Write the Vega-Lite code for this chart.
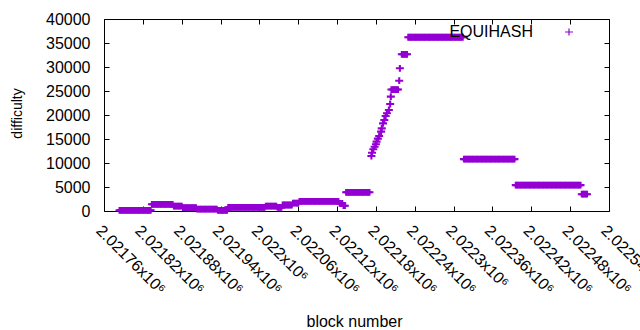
{
  "$schema": "https://vega.github.io/schema/vega-lite/v6.json",
  "autosize": {"type": "none"},
  "padding": {"left": 104, "top": 19, "right": 31, "bottom": 119},
  "width": 505,
  "height": 192,
  "background": "white",
  "config": {
    "font": "Liberation Sans",
    "view": {"stroke": "black", "strokeWidth": 1},
    "axis": {"grid": false, "domain": false, "tickColor": "black", "tickSize": -5, "labelColor": "black", "labelFontSize": 16, "titleColor": "black", "titleFontWeight": "normal", "titleFontSize": 16, "labelFont": "Liberation Sans", "titleFont": "Liberation Sans"}
  },
  "data": {"values": [
    {"b":2021784,"d":150},{"b":2021786,"d":150},{"b":2021788,"d":150},{"b":2021790,"d":150},{"b":2021792,"d":150},{"b":2021794,"d":150},{"b":2021796,"d":150},{"b":2021798,"d":150},{"b":2021800,"d":150},{"b":2021802,"d":150},{"b":2021804,"d":150},{"b":2021806,"d":150},{"b":2021808,"d":150},{"b":2021810,"d":150},{"b":2021812,"d":150},{"b":2021814,"d":150},{"b":2021816,"d":150},{"b":2021818,"d":150},{"b":2021820,"d":150},{"b":2021822,"d":150},{"b":2021824,"d":150},{"b":2021826,"d":150},{"b":2021828,"d":150},{"b":2021830,"d":150},{"b":2021832,"d":150},
    {"b":2021834,"d":1400},{"b":2021836,"d":1400},{"b":2021838,"d":1400},{"b":2021840,"d":1400},{"b":2021842,"d":1400},{"b":2021844,"d":1400},{"b":2021846,"d":1400},{"b":2021848,"d":1400},{"b":2021850,"d":1400},{"b":2021852,"d":1400},{"b":2021854,"d":1400},{"b":2021856,"d":1400},{"b":2021858,"d":1400},{"b":2021860,"d":1400},{"b":2021862,"d":1400},{"b":2021864,"d":1400},{"b":2021866,"d":1400},
    {"b":2021868,"d":1000},{"b":2021870,"d":1000},{"b":2021872,"d":1000},{"b":2021874,"d":1000},{"b":2021876,"d":1000},{"b":2021878,"d":1000},{"b":2021880,"d":1000},
    {"b":2021882,"d":700},{"b":2021884,"d":700},{"b":2021886,"d":700},{"b":2021888,"d":700},{"b":2021890,"d":700},{"b":2021892,"d":700},{"b":2021894,"d":700},{"b":2021896,"d":700},{"b":2021898,"d":700},{"b":2021900,"d":700},{"b":2021902,"d":700},
    {"b":2021904,"d":400},{"b":2021906,"d":400},{"b":2021908,"d":400},{"b":2021910,"d":400},{"b":2021912,"d":400},{"b":2021914,"d":400},{"b":2021916,"d":400},{"b":2021918,"d":400},{"b":2021920,"d":400},{"b":2021922,"d":400},{"b":2021924,"d":400},{"b":2021926,"d":400},{"b":2021928,"d":400},{"b":2021930,"d":400},{"b":2021932,"d":400},{"b":2021934,"d":400},
    {"b":2021936,"d":150},{"b":2021938,"d":150},{"b":2021940,"d":150},{"b":2021942,"d":150},{"b":2021944,"d":150},{"b":2021946,"d":150},{"b":2021948,"d":150},{"b":2021950,"d":150},
    {"b":2021952,"d":750},{"b":2021954,"d":750},{"b":2021956,"d":750},{"b":2021958,"d":750},{"b":2021960,"d":750},{"b":2021962,"d":750},{"b":2021964,"d":750},{"b":2021966,"d":750},{"b":2021968,"d":750},{"b":2021970,"d":750},{"b":2021972,"d":750},{"b":2021974,"d":750},{"b":2021976,"d":750},{"b":2021978,"d":750},{"b":2021980,"d":750},{"b":2021982,"d":750},{"b":2021984,"d":750},{"b":2021986,"d":750},{"b":2021988,"d":750},{"b":2021990,"d":750},{"b":2021992,"d":750},{"b":2021994,"d":750},{"b":2021996,"d":750},{"b":2021998,"d":750},{"b":2022000,"d":750},{"b":2022002,"d":750},{"b":2022004,"d":750},{"b":2022006,"d":750},{"b":2022008,"d":750},
    {"b":2022010,"d":1000},{"b":2022012,"d":1000},{"b":2022014,"d":1000},{"b":2022016,"d":1000},{"b":2022018,"d":1000},{"b":2022020,"d":1000},{"b":2022022,"d":1000},{"b":2022024,"d":1000},{"b":2022026,"d":1000},
    {"b":2022028,"d":750},{"b":2022030,"d":750},{"b":2022032,"d":750},{"b":2022034,"d":750},
    {"b":2022036,"d":1250},{"b":2022038,"d":1250},{"b":2022040,"d":1250},{"b":2022042,"d":1250},{"b":2022044,"d":1250},{"b":2022046,"d":1250},{"b":2022048,"d":1250},{"b":2022050,"d":1250},
    {"b":2022052,"d":1650},{"b":2022054,"d":1650},{"b":2022056,"d":1650},{"b":2022058,"d":1650},{"b":2022060,"d":1650},
    {"b":2022062,"d":2000},{"b":2022064,"d":2000},{"b":2022066,"d":2000},{"b":2022068,"d":2000},{"b":2022070,"d":2000},{"b":2022072,"d":2000},{"b":2022074,"d":2000},{"b":2022076,"d":2000},{"b":2022078,"d":2000},{"b":2022080,"d":2000},{"b":2022082,"d":2000},{"b":2022084,"d":2000},{"b":2022086,"d":2000},{"b":2022088,"d":2000},{"b":2022090,"d":2000},{"b":2022092,"d":2000},{"b":2022094,"d":2000},{"b":2022096,"d":2000},{"b":2022098,"d":2000},{"b":2022100,"d":2000},{"b":2022102,"d":2000},{"b":2022104,"d":2000},{"b":2022106,"d":2000},{"b":2022108,"d":2000},{"b":2022110,"d":2000},{"b":2022112,"d":2000},{"b":2022114,"d":2000},{"b":2022116,"d":2000},{"b":2022118,"d":2000},{"b":2022120,"d":2000},{"b":2022122,"d":2000},
    {"b":2022124,"d":1600},{"b":2022126,"d":1600},{"b":2022128,"d":1600},
    {"b":2022130,"d":1100},{"b":2022132,"d":1100},
    {"b":2022134,"d":3900},{"b":2022136,"d":3900},{"b":2022138,"d":3900},{"b":2022140,"d":3900},{"b":2022142,"d":3900},{"b":2022144,"d":3900},{"b":2022146,"d":3900},{"b":2022148,"d":3900},{"b":2022150,"d":3900},{"b":2022152,"d":3900},{"b":2022154,"d":3900},{"b":2022156,"d":3900},{"b":2022158,"d":3900},{"b":2022160,"d":3900},{"b":2022162,"d":3900},{"b":2022164,"d":3900},{"b":2022166,"d":3900},{"b":2022168,"d":3900},{"b":2022170,"d":3900},
    {"b":2022173,"d":11460},{"b":2022174,"d":12150},{"b":2022176,"d":12850},{"b":2022178,"d":13400},{"b":2022180,"d":13900},{"b":2022181,"d":14450},{"b":2022183,"d":15070},{"b":2022185,"d":15630},{"b":2022188,"d":16530},{"b":2022189,"d":17220},{"b":2022191,"d":18260},{"b":2022193,"d":18960},{"b":2022195,"d":19790},{"b":2022197,"d":20350},{"b":2022200,"d":21040},{"b":2022202,"d":22290},{"b":2022203,"d":23820},
    {"b":2022204,"d":25300},{"b":2022206,"d":25300},{"b":2022208,"d":25300},{"b":2022210,"d":25300},{"b":2022212,"d":25300},{"b":2022214,"d":25300},
    {"b":2022216,"d":27150},{"b":2022217,"d":29730},
    {"b":2022220,"d":32650},{"b":2022222,"d":32650},{"b":2022224,"d":32650},{"b":2022226,"d":32650},{"b":2022228,"d":32650},
    {"b":2022230,"d":36200},{"b":2022232,"d":36200},{"b":2022234,"d":36200},{"b":2022236,"d":36200},{"b":2022238,"d":36200},{"b":2022240,"d":36200},{"b":2022242,"d":36200},{"b":2022244,"d":36200},{"b":2022246,"d":36200},{"b":2022248,"d":36200},{"b":2022250,"d":36200},{"b":2022252,"d":36200},{"b":2022254,"d":36200},{"b":2022256,"d":36200},{"b":2022258,"d":36200},{"b":2022260,"d":36200},{"b":2022262,"d":36200},{"b":2022264,"d":36200},{"b":2022266,"d":36200},{"b":2022268,"d":36200},{"b":2022270,"d":36200},{"b":2022272,"d":36200},{"b":2022274,"d":36200},{"b":2022276,"d":36200},{"b":2022278,"d":36200},{"b":2022280,"d":36200},{"b":2022282,"d":36200},{"b":2022284,"d":36200},{"b":2022286,"d":36200},{"b":2022288,"d":36200},{"b":2022290,"d":36200},{"b":2022292,"d":36200},{"b":2022294,"d":36200},{"b":2022296,"d":36200},{"b":2022298,"d":36200},{"b":2022300,"d":36200},{"b":2022302,"d":36200},{"b":2022304,"d":36200},{"b":2022306,"d":36200},{"b":2022308,"d":36200},{"b":2022310,"d":36200},{"b":2022312,"d":36200},{"b":2022314,"d":36200},
    {"b":2022316,"d":10800},{"b":2022318,"d":10800},{"b":2022320,"d":10800},{"b":2022322,"d":10800},{"b":2022324,"d":10800},{"b":2022326,"d":10800},{"b":2022328,"d":10800},{"b":2022330,"d":10800},{"b":2022332,"d":10800},{"b":2022334,"d":10800},{"b":2022336,"d":10800},{"b":2022338,"d":10800},{"b":2022340,"d":10800},{"b":2022342,"d":10800},{"b":2022344,"d":10800},{"b":2022346,"d":10800},{"b":2022348,"d":10800},{"b":2022350,"d":10800},{"b":2022352,"d":10800},{"b":2022354,"d":10800},{"b":2022356,"d":10800},{"b":2022358,"d":10800},{"b":2022360,"d":10800},{"b":2022362,"d":10800},{"b":2022364,"d":10800},{"b":2022366,"d":10800},{"b":2022368,"d":10800},{"b":2022370,"d":10800},{"b":2022372,"d":10800},{"b":2022374,"d":10800},{"b":2022376,"d":10800},{"b":2022378,"d":10800},{"b":2022380,"d":10800},{"b":2022382,"d":10800},{"b":2022384,"d":10800},{"b":2022386,"d":10800},{"b":2022388,"d":10800},{"b":2022390,"d":10800},{"b":2022392,"d":10800},{"b":2022394,"d":10800},
    {"b":2022396,"d":5400},{"b":2022398,"d":5400},{"b":2022400,"d":5400},{"b":2022402,"d":5400},{"b":2022404,"d":5400},{"b":2022406,"d":5400},{"b":2022408,"d":5400},{"b":2022410,"d":5400},{"b":2022412,"d":5400},{"b":2022414,"d":5400},{"b":2022416,"d":5400},{"b":2022418,"d":5400},{"b":2022420,"d":5400},{"b":2022422,"d":5400},{"b":2022424,"d":5400},{"b":2022426,"d":5400},{"b":2022428,"d":5400},{"b":2022430,"d":5400},{"b":2022432,"d":5400},{"b":2022434,"d":5400},{"b":2022436,"d":5400},{"b":2022438,"d":5400},{"b":2022440,"d":5400},{"b":2022442,"d":5400},{"b":2022444,"d":5400},{"b":2022446,"d":5400},{"b":2022448,"d":5400},{"b":2022450,"d":5400},{"b":2022452,"d":5400},{"b":2022454,"d":5400},{"b":2022456,"d":5400},{"b":2022458,"d":5400},{"b":2022460,"d":5400},{"b":2022462,"d":5400},{"b":2022464,"d":5400},{"b":2022466,"d":5400},{"b":2022468,"d":5400},{"b":2022470,"d":5400},{"b":2022472,"d":5400},{"b":2022474,"d":5400},{"b":2022476,"d":5400},{"b":2022478,"d":5400},{"b":2022480,"d":5400},{"b":2022482,"d":5400},{"b":2022484,"d":5400},{"b":2022486,"d":5400},{"b":2022488,"d":5400},{"b":2022490,"d":5400},{"b":2022492,"d":5400},{"b":2022494,"d":5400},{"b":2022496,"d":5400},
    {"b":2022498,"d":3500},{"b":2022500,"d":3500},{"b":2022502,"d":3500},{"b":2022504,"d":3500},{"b":2022506,"d":3500}
  ]},
  "layer": [
    {
      "mark": {"type": "point", "shape": "M-1,0L1,0M0,-0.85L0,0.85", "size": 64, "filled": false, "strokeWidth": 2.1, "opacity": 1},
      "encoding": {
        "x": {"field": "b", "type": "quantitative", "title": "block number",
          "scale": {"domain": [2021760, 2022540], "nice": false, "zero": false},
          "axis": {"orient": "bottom", "values": [2021760, 2021820, 2021880, 2021940, 2022000, 2022060, 2022120, 2022180, 2022240, 2022300, 2022360, 2022420, 2022480, 2022540],
            "labelExpr": "format(datum.value/1000000, '.6~g') + 'x10⁶'",
            "labelAngle": 45, "labelAlign": "left", "labelBaseline": "top", "labelPadding": 16, "labelOverlap": false, "labelFlush": false, "labelBound": false,
            "titleX": 250, "titleY": 115, "titleBaseline": "alphabetic", "titleAlign": "center"}},
        "y": {"field": "d", "type": "quantitative", "title": "difficulty",
          "scale": {"domain": [0, 40000], "nice": false},
          "axis": {"orient": "left", "values": [0, 5000, 10000, 15000, 20000, 25000, 30000, 35000, 40000], "format": "d", "labelPadding": 19,
            "titleFontSize": 14, "titleX": -87, "titleY": 94, "titleBaseline": "middle", "titleAlign": "center", "titleAngle": -90}},
        "color": {"datum": "EQUIHASH", "type": "nominal",
          "scale": {"range": ["#9400d3"]},
          "legend": {"title": null, "orient": "none", "legendX": 457, "legendY": 5, "padding": 0,
            "symbolType": "M-1,0L1,0M0,-0.85L0,0.85", "symbolSize": 64, "symbolStrokeWidth": 1.2, "symbolFillColor": "transparent",
            "labelAlign": "right", "labelOffset": -44, "labelFontSize": 16, "labelColor": "black", "labelFont": "Liberation Sans"}}
      }
    },
    {
      "mark": {"type": "point", "opacity": 0},
      "encoding": {
        "x": {"field": "b", "type": "quantitative",
          "axis": {"orient": "top", "title": null, "labels": false, "values": [2021760, 2021820, 2021880, 2021940, 2022000, 2022060, 2022120, 2022180, 2022240, 2022300, 2022360, 2022420, 2022480, 2022540]}},
        "y": {"field": "d", "type": "quantitative",
          "axis": {"orient": "right", "title": null, "labels": false, "values": [0, 5000, 10000, 15000, 20000, 25000, 30000, 35000, 40000]}}
      }
    }
  ]
}
